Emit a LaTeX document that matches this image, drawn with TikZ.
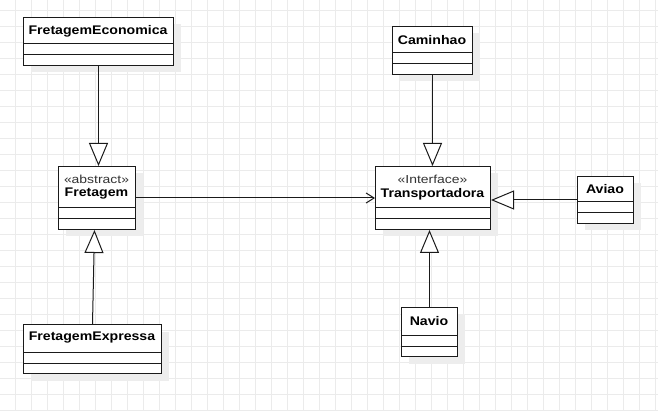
\documentclass[tikz,border=0pt]{standalone}
\usepackage{fontspec}
\usepackage{graphicx}
\setmainfont{Liberation Sans}
\usetikzlibrary{arrows.meta,shadows}
\definecolor{gridc}{HTML}{EBEBEB}
\definecolor{shadc}{HTML}{EDEDED}
\definecolor{linec}{HTML}{1A1A1A}
\newcommand{\clsttl}[1]{\scalebox{1.13}[1]{\fontsize{12.5}{14}\selectfont\bfseries #1}}
\newcommand{\clsster}[1]{\scalebox{1.2}[1]{\fontsize{11.6}{14}\selectfont #1}}
\tikzset{
  cls/.style={draw=linec, line width=1pt, fill=white, rectangle, inner sep=0pt, anchor=north west,
    drop shadow={shadow xshift=7pt, shadow yshift=-7pt, fill=shadc, opacity=1}},
  ttl/.style={inner sep=0pt, text=black},
  ster/.style={inner sep=0pt, text=black!80},
  div/.style={draw=linec, line width=1pt},
  edge/.style={draw=linec, line width=1pt},
  gen/.style={edge, -{Triangle[width=19pt,length=23pt,fill=white]}},
  dep/.style={edge, -{Straight Barb[length=8pt,width=10pt]}},
}
\begin{document}
\begin{tikzpicture}[x=1pt,y=-1pt]
\useasboundingbox (0,0) rectangle (658,411);
\fill[white] (0,0) rectangle (658,411);
% grid
\foreach \gx in {15.5,31.5,...,655.5} \draw[gridc, line width=0.8pt] (\gx,0) -- (\gx,411);
\foreach \gy in {10,26,...,410} \draw[gridc, line width=0.8pt] (0,\gy) -- (658,\gy);

% FretagemEconomica
\node[cls, minimum width=150pt, minimum height=48pt] (econ) at (23,17) {};
\node[ttl] (econT) at (98,31) {\clsttl{FretagemEconomica}};
\draw[div] ([yshift=-27pt]econ.north west) -- ([yshift=-27pt]econ.north east);
\draw[div] ([yshift=-38pt]econ.north west) -- ([yshift=-38pt]econ.north east);

% Fretagem
\node[cls, minimum width=77pt, minimum height=63pt] (fret) at (58,166) {};
\node[ster] (fretS) at (96.5,179.5) {\clsster{«abstract»}};
\node[ttl] (fretT) at (96.5,194) {\clsttl{Fretagem}};
\draw[div] ([yshift=-42pt]fret.north west) -- ([yshift=-42pt]fret.north east);
\draw[div] ([yshift=-53pt]fret.north west) -- ([yshift=-53pt]fret.north east);

% FretagemExpressa
\node[cls, minimum width=138pt, minimum height=49pt] (expr) at (23,324) {};
\node[ttl] (exprT) at (92,338) {\clsttl{FretagemExpressa}};
\draw[div] ([yshift=-28pt]expr.north west) -- ([yshift=-28pt]expr.north east);
\draw[div] ([yshift=-39pt]expr.north west) -- ([yshift=-39pt]expr.north east);

% Caminhao
\node[cls, minimum width=80pt, minimum height=48pt] (cam) at (392,26) {};
\node[ttl] (camT) at (432,40) {\clsttl{Caminhao}};
\draw[div] ([yshift=-27pt]cam.north west) -- ([yshift=-27pt]cam.north east);
\draw[div] ([yshift=-38pt]cam.north west) -- ([yshift=-38pt]cam.north east);

% Transportadora
\node[cls, minimum width=115pt, minimum height=63pt] (trans) at (375,166) {};
\node[ster] (transS) at (432.5,179.5) {\clsster{«Interface»}};
\node[ttl] (transT) at (432.5,194) {\clsttl{Transportadora}};
\draw[div] ([yshift=-42pt]trans.north west) -- ([yshift=-42pt]trans.north east);
\draw[div] ([yshift=-53pt]trans.north west) -- ([yshift=-53pt]trans.north east);

% Aviao
\node[cls, minimum width=56pt, minimum height=47pt] (aviao) at (577,176) {};
\node[ttl] (aviaoT) at (605,189.5) {\clsttl{Aviao}};
\draw[div] ([yshift=-26pt]aviao.north west) -- ([yshift=-26pt]aviao.north east);
\draw[div] ([yshift=-37pt]aviao.north west) -- ([yshift=-37pt]aviao.north east);

% Navio
\node[cls, minimum width=56pt, minimum height=49pt] (navio) at (401,307) {};
\node[ttl] (navioT) at (429,321) {\clsttl{Navio}};
\draw[div] ([yshift=-28pt]navio.north west) -- ([yshift=-28pt]navio.north east);
\draw[div] ([yshift=-39pt]navio.north west) -- ([yshift=-39pt]navio.north east);

% connectors
\draw[gen] (econ.south) -- (econ.south |- fret.north);
\draw[gen] (expr.north) -- ([xshift=-2.5pt]fret.south);
\draw[gen] (cam.south) -- (cam.south |- trans.north);
\draw[gen] (navio.north) -- (navio.north |- trans.south);
\draw[gen] (aviao.west) -- (aviao.west -| trans.east);
\draw[dep] (fret.east) -- (fret.east -| trans.west);
\end{tikzpicture}
\end{document}
